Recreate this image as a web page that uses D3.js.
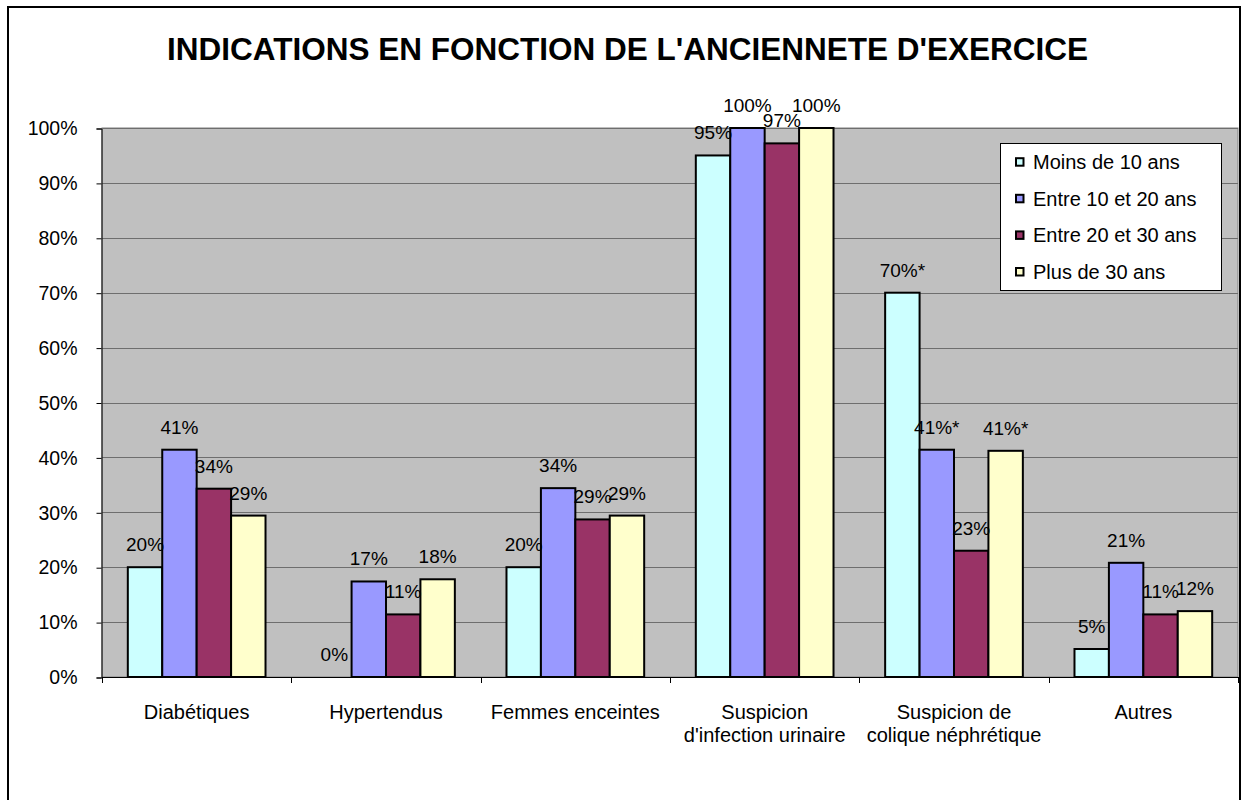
<!DOCTYPE html>
<html>
<head>
<meta charset="utf-8">
<script src="https://cdn.jsdelivr.net/npm/d3@7"></script>
<style>
  html, body { margin: 0; padding: 0; background: #fff; }
  svg { display: block; }
  text { font-family: "Liberation Sans", Arial, sans-serif; fill: #000; }
</style>
</head>
<body>
<svg id="chart" width="1243" height="800"></svg>
<script>
const title = "INDICATIONS EN FONCTION DE L'ANCIENNETE D'EXERCICE";
const categories = ["Diabétiques", "Hypertendus", "Femmes enceintes", "Suspicion\nd'infection urinaire", "Suspicion de\ncolique néphrétique", "Autres"];
const seriesNames = ["Moins de 10 ans", "Entre 10 et 20 ans", "Entre 20 et 30 ans", "Plus de 30 ans"];
const seriesColors = ["#CCFFFF", "#9999FF", "#993366", "#FFFFCC"];
const moins10 = [20.0, 0, 20.0, 95.0, 70.0, 5.1];
const entre10_20 = [41.4, 17.4, 34.4, 100, 41.4, 20.8];
const entre20_30 = [34.3, 11.4, 28.7, 97.2, 23.0, 11.4];
const plus30 = [29.4, 17.8, 29.4, 100, 41.2, 12.0];
const moins10Suffix = ["", "", "", "", "*", ""];
const entre10_20Suffix = ["", "", "", "", "*", ""];
const entre20_30Suffix = ["", "", "", "", "", ""];
const plus30Suffix = ["", "", "", "", "*", ""];
const yTicks = [0, 10, 20, 30, 40, 50, 60, 70, 80, 90, 100];

const seriesValues = [moins10, entre10_20, entre20_30, plus30];
const seriesSuffix = [moins10Suffix, entre10_20Suffix, entre20_30Suffix, plus30Suffix];

const svg = d3.select("#chart");

// outer chart border
svg.append("rect").attr("x", 8).attr("y", 7).attr("width", 1232).attr("height", 900)
  .attr("fill", "#fff").attr("stroke", "#000").attr("stroke-width", 2);

// title
svg.append("text").attr("x", 627.5).attr("y", 60).attr("text-anchor", "middle")
  .style("font-size", "31.5px").style("font-weight", "bold").text(title);

const plotLeft = 102, plotRight = 1238, plotTop = 128, plotBottom = 677;
const x = d3.scaleBand().domain(categories).range([plotLeft, plotRight]).paddingInner(0).paddingOuter(0);
const y = d3.scaleLinear().domain([0, 100]).range([plotBottom, plotTop]);
const bw = x.bandwidth();
const barW = bw / 5.5;
const xs = d3.scaleBand().domain(d3.range(seriesNames.length)).range([barW * 0.75, bw - barW * 0.75]).padding(0);

// plot area
svg.append("rect").attr("x", plotLeft).attr("y", plotTop).attr("width", plotRight - plotLeft).attr("height", plotBottom - plotTop)
  .attr("fill", "#C0C0C0").attr("stroke", "#808080").attr("stroke-width", 1);

// gridlines
svg.append("g").selectAll("line").data(yTicks.filter(d => d > 0)).join("line")
  .attr("x1", plotLeft).attr("x2", plotRight)
  .attr("y1", d => Math.round(y(d)) + 0.5).attr("y2", d => Math.round(y(d)) + 0.5)
  .attr("stroke", "#6e6e6e").attr("stroke-width", 1);

// y axis
const yAxis = d3.axisLeft(y).tickValues(yTicks).tickFormat(d => d + "%").tickSize(5).tickPadding(19);
const gy = svg.append("g").attr("transform", `translate(${plotLeft - 0.5},0.5)`).call(yAxis);
gy.select(".domain").attr("stroke", "#000");
gy.selectAll(".tick line").attr("stroke", "#000");
gy.selectAll(".tick text").style("font-size", "19.5px").style("font-family", "Liberation Sans, Arial, sans-serif").attr("fill", "#000");

// bars
const groups = svg.append("g").selectAll("g").data(categories).join("g")
  .attr("transform", d => `translate(${x(d)},0)`);

groups.each(function(cat, ci) {
  const g = d3.select(this);
  seriesValues.forEach((vals, si) => {
    const v = vals[ci];
    if (v > 0) {
      g.append("rect")
        .attr("x", xs(si)).attr("y", y(v))
        .attr("width", xs.bandwidth()).attr("height", y(0) - y(v))
        .attr("fill", seriesColors[si]).attr("stroke", "#000").attr("stroke-width", 2);
    }
  });
});

// x axis
svg.append("line").attr("x1", plotLeft).attr("x2", plotRight).attr("y1", plotBottom + 0.5).attr("y2", plotBottom + 0.5)
  .attr("stroke", "#000").attr("stroke-width", 1);
const boundaries = categories.map(c => x(c)).concat([plotRight]);
svg.append("g").selectAll("line").data(boundaries).join("line")
  .attr("x1", d => Math.round(d) + 0.5).attr("x2", d => Math.round(d) + 0.5)
  .attr("y1", plotBottom).attr("y2", plotBottom + 6).attr("stroke", "#000");

// category labels
svg.append("g").selectAll("text").data(categories).join("text")
  .attr("x", d => x(d) + bw / 2).attr("y", 719)
  .attr("text-anchor", "middle").style("font-size", "20px")
  .each(function(d) {
    const lines = d.split("\n");
    d3.select(this).selectAll("tspan").data(lines).join("tspan")
      .attr("x", x(d) + bw / 2).attr("dy", (l, i) => i === 0 ? 0 : 23).text(l => l);
  });

// data labels
groups.each(function(cat, ci) {
  const g = d3.select(this);
  seriesValues.forEach((vals, si) => {
    const v = vals[ci];
    g.append("text")
      .attr("x", xs(si) + xs.bandwidth() / 2).attr("y", y(v) - 16)
      .attr("text-anchor", "middle").style("font-size", "19px")
      .text(d3.format(".0f")(v) + "%" + seriesSuffix[si][ci]);
  });
});

// legend
const lg = svg.append("g");
lg.append("rect").attr("x", 1000.5).attr("y", 143.5).attr("width", 221).attr("height", 147)
  .attr("fill", "#fff").attr("stroke", "#000").attr("stroke-width", 1);
seriesNames.forEach((name, i) => {
  const cy = 162 + i * 36.6;
  lg.append("rect").attr("x", 1016).attr("y", cy - 3.8).attr("width", 7.5).attr("height", 7.5)
    .attr("fill", seriesColors[i]).attr("stroke", "#000").attr("stroke-width", 2);
  lg.append("text").attr("x", 1033).attr("y", cy + 7).style("font-size", "20px").text(name);
});
</script>
</body>
</html>
